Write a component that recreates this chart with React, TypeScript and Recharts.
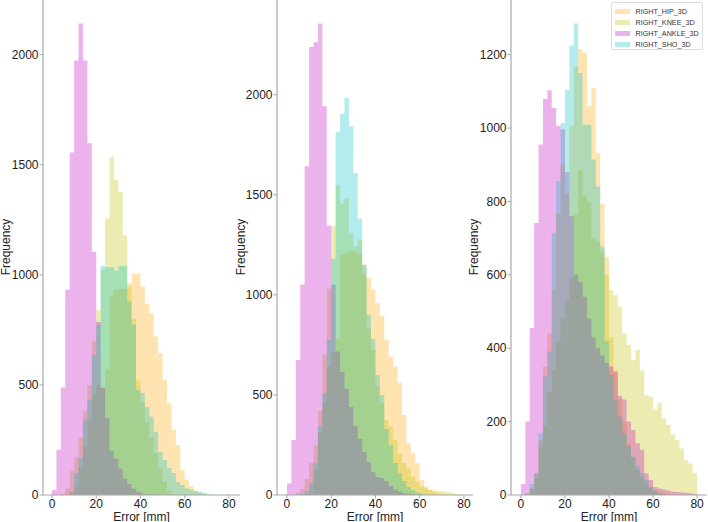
import { ComposedChart, Area, XAxis, YAxis } from 'recharts'

// histogram bin edges (mm), 2 mm bins
const BIN_EDGES = [
  0, 2, 4, 6, 8, 10, 12, 14, 16, 18, 20, 22, 24, 26, 28, 30, 32, 34, 36, 38, 40,
  42, 44, 46, 48, 50, 52, 54, 56, 58, 60, 62, 64, 66, 68, 70, 72, 74, 76, 78, 80,
]
const X_TICKS = [0, 20, 40, 60, 80]

const SERIES_NAMES = ['RIGHT_HIP_3D', 'RIGHT_KNEE_3D', 'RIGHT_ANKLE_3D', 'RIGHT_SHO_3D']
const SERIES_KEYS = ['hip', 'knee', 'ankle', 'sho']
const COLORS = ['#ffa500', '#bfbf00', '#bf00bf', '#00bfbf']

// panel 1
const P1_HIP = [0, 0, 0, 5, 15, 40, 125, 220, 340, 455, 500, 490, 570, 900, 932, 935, 935, 960, 1005, 1005, 947, 868, 826, 720, 644, 523, 417, 295, 227, 114, 70, 40, 20, 10, 5, 0, 0, 0, 0, 0]
const P1_KNEE = [0, 0, 5, 30, 110, 170, 260, 380, 500, 700, 840, 1025, 1257, 1536, 1432, 1377, 1180, 947, 800, 520, 420, 330, 260, 190, 120, 60, 20, 5, 0, 0, 0, 0, 0, 0, 0, 0, 0, 0, 0, 0]
const P1_ANKLE = [23, 205, 488, 932, 1556, 1973, 2141, 1973, 1598, 1105, 786, 486, 350, 200, 165, 120, 75, 50, 28, 14, 7, 3, 2, 1, 0, 0, 0, 0, 0, 0, 0, 0, 0, 0, 0, 0, 0, 0, 0, 0]
const P1_SHO = [0, 0, 0, 0, 10, 100, 168, 340, 432, 636, 773, 1040, 1036, 1036, 1020, 1040, 1040, 879, 773, 477, 463, 400, 355, 286, 195, 159, 123, 100, 59, 45, 30, 25, 18, 15, 10, 5, 2, 0, 0, 0]

// panel 2
const P2_HIP = [0, 0, 0, 0, 5, 20, 125, 310, 460, 642, 717, 780, 1200, 1210, 1220, 1210, 1200, 1150, 1083, 1025, 958, 895, 775, 692, 642, 560, 400, 258, 208, 158, 75, 42, 25, 12, 6, 3, 0, 0, 0, 0]
const P2_KNEE = [0, 0, 10, 30, 80, 160, 250, 420, 700, 1030, 1345, 1550, 1455, 1483, 1308, 1242, 1275, 1100, 830, 725, 542, 460, 375, 342, 275, 208, 160, 133, 92, 67, 42, 33, 25, 22, 20, 17, 14, 10, 5, 3]
const P2_ANKLE = [58, 275, 675, 1050, 1642, 2238, 2262, 2355, 1942, 1345, 1050, 717, 615, 530, 440, 345, 280, 215, 165, 115, 90, 85, 70, 45, 28, 18, 10, 6, 3, 0, 0, 0, 0, 0, 0, 0, 0, 0, 0, 0]
const P2_SHO = [0, 0, 0, 5, 20, 60, 160, 342, 510, 775, 1180, 1813, 1903, 1983, 1842, 1608, 1380, 1150, 900, 780, 600, 500, 330, 250, 160, 110, 70, 40, 25, 12, 6, 3, 0, 0, 0, 0, 0, 0, 0, 0]

// panel 3
const P3_HIP = [0, 2, 20, 60, 150, 350, 440, 559, 768, 900, 820, 1005, 1168, 1215, 1205, 1060, 1109, 932, 794, 648, 430, 340, 260, 200, 140, 100, 70, 50, 30, 20, 12, 8, 5, 3, 0, 0, 0, 0, 0, 0]
const P3_KNEE = [0, 3, 15, 45, 130, 190, 280, 340, 420, 480, 530, 590, 764, 886, 814, 800, 700, 690, 660, 600, 559, 545, 513, 440, 409, 368, 395, 340, 272, 268, 232, 250, 209, 191, 164, 150, 127, 95, 86, 59]
const P3_ANKLE = [30, 200, 455, 741, 955, 1079, 1103, 1055, 1006, 997, 880, 760, 600, 580, 540, 480, 430, 400, 380, 360, 350, 336, 270, 260, 200, 177, 141, 123, 59, 41, 22, 18, 15, 12, 9, 8, 7, 6, 5, 3]
const P3_SHO = [0, 5, 30, 60, 168, 323, 391, 714, 855, 1013, 1104, 1225, 1285, 1150, 1009, 1009, 914, 841, 677, 420, 327, 259, 214, 168, 132, 104, 80, 59, 41, 22, 10, 5, 0, 0, 0, 0, 0, 0, 0, 0]

const P1_Y_TICKS = [0, 500, 1000, 1500, 2000]
const P2_Y_TICKS = [0, 500, 1000, 1500, 2000]
const P3_Y_TICKS = [0, 200, 400, 600, 800, 1000, 1200]

function buildRows(series: number[][]) {
  return BIN_EDGES.map((x, i) => {
    const row: Record<string, number> = { x }
    SERIES_KEYS.forEach((k, s) => {
      row[k] = series[s][i] ?? 0
    })
    return row
  })
}

const FONT = '"Liberation Sans", Arial, sans-serif'
const AXIS = '#a8a8a8'
const TICK = { fill: '#222', fontSize: 12, fontFamily: FONT }

interface PanelProps {
  left: number
  width: number
  right: number
  rows: Record<string, number>[]
  xDomain: [number, number]
  yMax: number
  yTicks: number[]
}

function Panel({ left, width, right, rows, xDomain, yMax, yTicks }: PanelProps) {
  return (
    <div style={{ position: 'absolute', left, top: 0 }}>
      <ComposedChart width={width} height={522} data={rows} margin={{ top: 0, right, bottom: 0, left: 0 }}>
        <XAxis
          dataKey="x"
          type="number"
          domain={xDomain}
          allowDataOverflow
          ticks={X_TICKS}
          height={27}
          tick={TICK}
          tickSize={3.5}
          tickMargin={1}
          axisLine={{ stroke: AXIS, strokeWidth: 1.2 }}
          tickLine={{ stroke: AXIS }}
        />
        <YAxis
          type="number"
          domain={[0, yMax]}
          allowDataOverflow
          ticks={yTicks}
          width={43}
          tick={TICK}
          tickSize={3.5}
          tickMargin={1}
          axisLine={{ stroke: AXIS, strokeWidth: 1.2 }}
          tickLine={{ stroke: AXIS }}
        />
        {SERIES_KEYS.map((k, i) => (
          <Area
            key={k}
            type="stepAfter"
            dataKey={k}
            stroke="none"
            fill={COLORS[i]}
            fillOpacity={0.3}
            dot={false}
            activeDot={false}
            isAnimationActive={false}
          />
        ))}
      </ComposedChart>
    </div>
  )
}

function YLabel({ cx }: { cx: number }) {
  return (
    <div
      style={{
        position: 'absolute',
        left: cx - 50,
        top: 247 - 7,
        width: 100,
        height: 14,
        lineHeight: '14px',
        textAlign: 'center',
        fontFamily: FONT,
        fontSize: 12,
        color: '#222',
        transform: 'rotate(-90deg)',
      }}
    >
      Frequency
    </div>
  )
}

function XLabel({ cx }: { cx: number }) {
  return (
    <div
      style={{
        position: 'absolute',
        left: cx - 50,
        top: 509.5,
        width: 100,
        textAlign: 'center',
        fontFamily: FONT,
        fontSize: 12,
        color: '#222',
        whiteSpace: 'nowrap',
      }}
    >
      Error [mm]
    </div>
  )
}

export default function App() {
  const rows1 = buildRows([P1_HIP, P1_KNEE, P1_ANKLE, P1_SHO])
  const rows2 = buildRows([P2_HIP, P2_KNEE, P2_ANKLE, P2_SHO])
  const rows3 = buildRows([P3_HIP, P3_KNEE, P3_ANKLE, P3_SHO])
  return (
    <div style={{ position: 'relative', width: 708, height: 522, overflow: 'hidden', background: '#fff' }}>
      <style>{'body{margin:0}'}</style>
      <Panel left={0} width={242} right={2} rows={rows1} xDomain={[-4.07, 85]} yMax={2248} yTicks={P1_Y_TICKS} />
      <Panel left={234} width={241} right={2} rows={rows2} xDomain={[-4.5, 84.1]} yMax={2473} yTicks={P2_Y_TICKS} />
      <Panel left={468} width={240} right={1} rows={rows3} xDomain={[-4.5, 84.5]} yMax={1349} yTicks={P3_Y_TICKS} />
      <YLabel cx={5.5} />
      <YLabel cx={241} />
      <YLabel cx={473.5} />
      <XLabel cx={141.5} />
      <XLabel cx={375} />
      <XLabel cx={609} />
      <div
        style={{
          position: 'absolute',
          left: 611,
          top: 1.5,
          width: 92,
          height: 48,
          border: '1px solid #dddddd',
          borderRadius: 2,
          background: 'rgba(255,255,255,0.8)',
          boxSizing: 'border-box',
        }}
      >
        {SERIES_NAMES.map((name, i) => (
          <div key={name} style={{ position: 'absolute', left: 2.5, top: 4.2 + i * 11, height: 10, display: 'flex', alignItems: 'center' }}>
            <div style={{ width: 15, height: 5.2, background: COLORS[i], opacity: 0.3 }} />
            <span style={{ marginLeft: 6, fontFamily: FONT, fontSize: 7.2, color: '#333', whiteSpace: 'nowrap' }}>{name}</span>
          </div>
        ))}
      </div>
    </div>
  )
}
